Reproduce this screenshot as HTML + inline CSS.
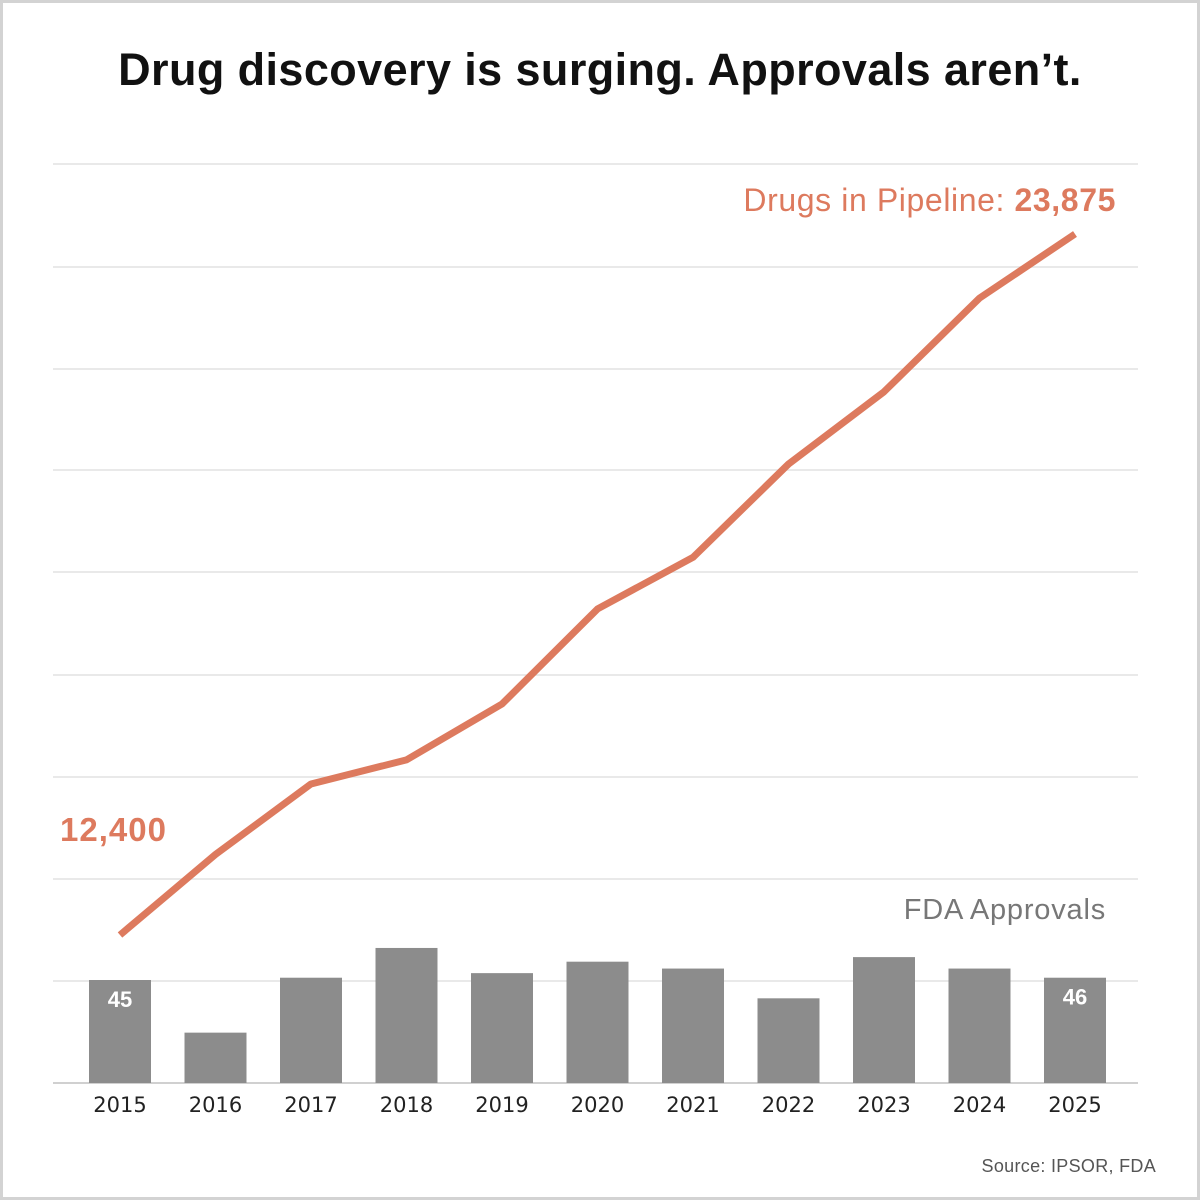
<!DOCTYPE html>
<html><head><meta charset="utf-8"><style>
html,body{margin:0;padding:0;background:#fff}
#wrap{position:relative;width:1200px;height:1200px;background:#fff;overflow:hidden;box-shadow:inset 0 0 0 3px #d3d3d3}
svg{position:absolute;left:0;top:0}
</style></head><body>
<div id="wrap">
<svg id="chart" width="1200" height="1200" viewBox="0 0 1200 1200">
<rect x="1.5" y="1.5" width="1197" height="1197" fill="none" stroke="#d3d3d3" stroke-width="3"/>
<text x="600" y="85" text-anchor="middle" font-family="Liberation Sans, sans-serif" font-weight="bold" font-size="45" letter-spacing="0.4" fill="#111">Drug discovery is surging. Approvals aren’t.</text>
<g id="grid"></g><g id="bars"></g><g id="line"></g><g id="labels"></g>
<text x="1116" y="211" text-anchor="end" font-family="Liberation Sans, sans-serif" font-size="32" letter-spacing="0.6" fill="#dd7a5e">Drugs in Pipeline: <tspan font-weight="bold" id="lastVal">23,875</tspan></text>
<text x="60" y="841" font-family="Liberation Sans, sans-serif" font-weight="bold" font-size="33" letter-spacing="1" fill="#dd7a5e" id="firstVal">12,400</text>
<text x="1106" y="919" text-anchor="end" font-family="Liberation Sans, sans-serif" font-size="29" letter-spacing="0.8" fill="#777">FDA Approvals</text>
<text x="1156" y="1172" text-anchor="end" font-family="Liberation Sans, sans-serif" font-size="18" letter-spacing="0.3" fill="#555">Source: IPSOR, FDA</text>
</svg>
</div>
<script>
const years = [2015,2016,2017,2018,2019,2020,2021,2022,2023,2024,2025];
const pipeline = [12400,13718,14872,15267,16181,17737,18582,20109,21292,22825,23875];
const approvals = [45,22,46,59,48,53,50,37,55,50,46];
const gridYs = [164,267,369,470,572,675,777,879,981];

const NS='http://www.w3.org/2000/svg';
function mk(tag,attrs,parent){const e=document.createElementNS(NS,tag);for(const k in attrs)e.setAttribute(k,attrs[k]);parent.appendChild(e);return e;}
const x0=120,x1=1075;
function xPos(i){return x0+(x1-x0)*i/(years.length-1);}
const base=1083;
function barH(v){return v*103/45;}
function yLine(v){return 935-(v-12400)*(701/11475);}

const grid=document.getElementById('grid');
gridYs.forEach((y,i)=>{
 const l=mk('line',{x1:53,x2:1138,y1:y,y2:y,stroke:'#e2e2e2','stroke-width':1.5},grid);
 
 
});
const ax=mk('line',{x1:53,x2:1138,y1:base,y2:base,stroke:'#d0d0d0','stroke-width':2},grid);



const bars=document.getElementById('bars'),labels=document.getElementById('labels');
approvals.forEach((v,i)=>{
 const h=barH(v),cx=xPos(i);
 const r=mk('rect',{x:cx-31,y:base-h,width:62,height:h,fill:'#8c8c8c'},bars);
 
 
 const t=mk('text',{x:cx,y:1112,'text-anchor':'middle','font-family':'DejaVu Sans, sans-serif','font-size':21,fill:'#222'},labels);
 t.textContent=years[i];
 
 
 if(i===0||i===approvals.length-1){
  const vt=mk('text',{x:cx,y:base-h+27,'text-anchor':'middle','font-family':'Liberation Sans, sans-serif','font-weight':'bold','font-size':22,fill:'#fff'},labels);
  vt.textContent=v;
  
  
 }
});
const pts=pipeline.map((v,i)=>xPos(i)+','+yLine(v)).join(' ');
const pl=mk('polyline',{points:pts,fill:'none',stroke:'#dd7a5e','stroke-width':7,'stroke-linejoin':'round'},document.getElementById('line'));


document.getElementById('lastVal').textContent=pipeline[pipeline.length-1].toLocaleString('en-US');
document.getElementById('firstVal').textContent=pipeline[0].toLocaleString('en-US');
</script>
</body></html>
